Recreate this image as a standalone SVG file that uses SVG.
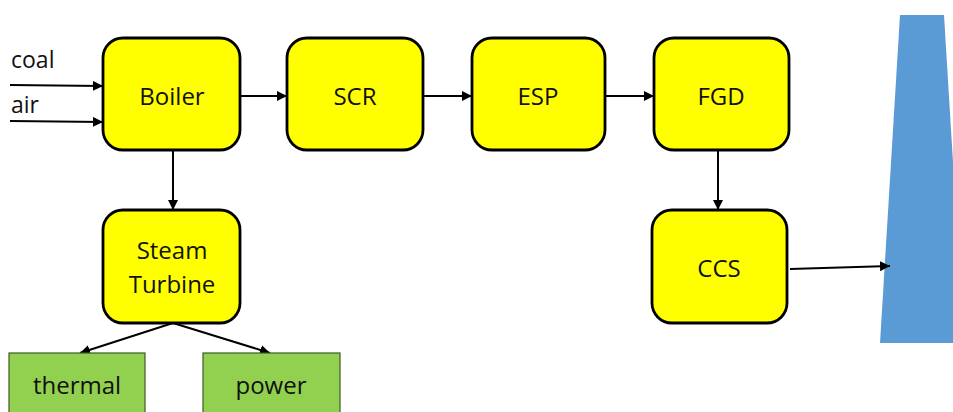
<svg xmlns="http://www.w3.org/2000/svg" width="953" height="412" viewBox="0 0 953 412">
  <style>
    .unit { fill: #FFFF00; stroke: #000; stroke-width: 2.8; }
    .out { fill: #92D050; stroke: #3f5a22; stroke-width: 1.2; }
    .lbl { font-family: "Open Sans", "Liberation Sans", sans-serif; font-size: 24px; fill: #111; text-anchor: middle; }
    .in { font-family: "Open Sans", "Liberation Sans", sans-serif; font-size: 23px; fill: #111; }
    .flow { stroke: #000; stroke-width: 2; fill: none; marker-end: url(#arrow); }
  </style>
  <defs>
    <marker id="arrow" viewBox="0 0 10 10" refX="10" refY="5" markerWidth="5" markerHeight="5" orient="auto" markerUnits="strokeWidth">
      <path d="M0,0 L10,5 L0,10 z" fill="#000"/>
    </marker>
  </defs>
  <rect width="953" height="412" fill="#fff"/>

  <!-- stack -->
  <g id="stack">
    <polygon points="900,15 944,15 964,343 880,343" fill="#5B9BD5"/>
  </g>

  <g id="connectors">
    <line class="flow" x1="10" y1="85" x2="103" y2="86"/>
    <line class="flow" x1="10" y1="121" x2="103" y2="122"/>
    <line class="flow" x1="240" y1="96" x2="287" y2="96"/>
    <line class="flow" x1="423" y1="96" x2="472" y2="96"/>
    <line class="flow" x1="605" y1="96" x2="654" y2="96"/>
    <line class="flow" x1="173" y1="150" x2="173" y2="210"/>
    <line class="flow" x1="718" y1="150" x2="718" y2="210"/>
    <line class="flow" x1="173" y1="323" x2="80" y2="353"/>
    <line class="flow" x1="173" y1="323" x2="270" y2="353"/>
    <line class="flow" x1="790" y1="269" x2="890" y2="266"/>
  </g>

  <g id="inputs">
    <text class="in" x="11" y="68">coal</text>
    <text class="in" x="11" y="113">air</text>
  </g>

  <g id="boiler">
    <rect class="unit" x="103" y="38" width="137" height="112" rx="20"/>
    <text class="lbl" x="172" y="105">Boiler</text>
  </g>
  <g id="scr">
    <rect class="unit" x="287" y="38" width="136" height="112" rx="20"/>
    <text class="lbl" x="355" y="105">SCR</text>
  </g>
  <g id="esp">
    <rect class="unit" x="472" y="38" width="133" height="112" rx="20"/>
    <text class="lbl" x="538" y="105">ESP</text>
  </g>
  <g id="fgd">
    <rect class="unit" x="654" y="38" width="135" height="112" rx="20"/>
    <text class="lbl" x="721" y="105">FGD</text>
  </g>
  <g id="ccs">
    <rect class="unit" x="652" y="210" width="135" height="113" rx="20"/>
    <text class="lbl" x="719" y="277">CCS</text>
  </g>
  <g id="steam-turbine">
    <rect class="unit" x="103" y="210" width="137" height="113" rx="20"/>
    <text class="lbl" x="172" y="259">Steam</text>
    <text class="lbl" x="172" y="293">Turbine</text>
  </g>
  <g id="thermal">
    <rect class="out" x="9" y="353" width="136" height="70"/>
    <text class="lbl" x="77" y="394">thermal</text>
  </g>
  <g id="power">
    <rect class="out" x="203" y="353" width="137" height="70"/>
    <text class="lbl" x="271" y="394">power</text>
  </g>
</svg>
